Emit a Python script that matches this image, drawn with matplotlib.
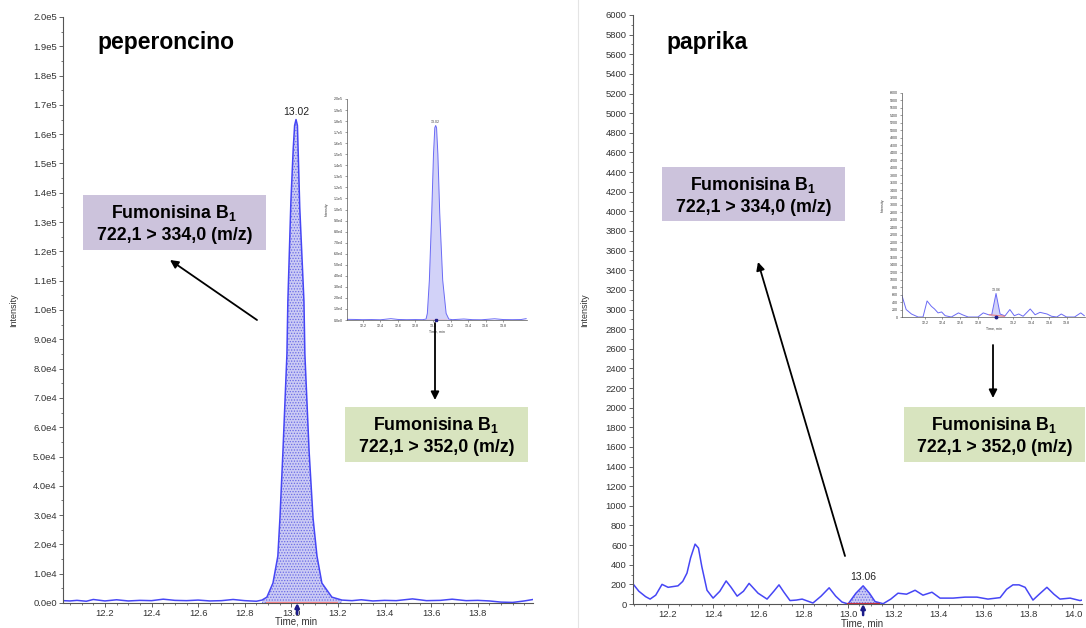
import matplotlib
matplotlib.use('Agg')
import matplotlib.pyplot as plt
from matplotlib.patches import Rectangle, FancyArrowPatch
from matplotlib.ticker import FixedLocator, MultipleLocator, FuncFormatter
from matplotlib.lines import Line2D
import numpy as np

plt.rcParams['font.family'] = ['Liberation Sans', 'DejaVu Sans']
plt.rcParams['mathtext.fontset'] = 'custom'
plt.rcParams['mathtext.rm'] = 'Liberation Sans'
plt.rcParams['mathtext.bf'] = 'Liberation Sans:bold'
plt.rcParams['hatch.linewidth'] = 0.6

# ---------------- DATA ----------------
# Left main chromatogram (peperoncino, 722,1 > 334,0)
left_pre_t = [12.02, 12.05, 12.08, 12.12, 12.15, 12.20, 12.25, 12.30, 12.35, 12.40, 12.45,
              12.50, 12.55, 12.60, 12.65, 12.70, 12.75, 12.80, 12.85]
left_pre_v = [800, 700, 900, 600, 1200, 700, 1100, 700, 900, 800, 1300,
              900, 800, 1000, 700, 800, 1200, 800, 600]
left_peak_t = [12.874, 12.895, 12.921, 12.942, 12.951, 12.964, 12.981, 12.985, 12.998, 13.008, 13.014,
               13.020, 13.026, 13.030, 13.036, 13.054, 13.058, 13.076, 13.093, 13.110, 13.131, 13.174, 13.217]
left_peak_v = [1000, 2000, 6800, 16000, 29000, 52000, 85000, 103000, 137000, 155000, 163000,
               165000, 163000, 152000, 135000, 103000, 85000, 52000, 29000, 16000, 6800, 2000, 1000]
left_post_t = [13.26, 13.30, 13.35, 13.40, 13.45, 13.52, 13.58, 13.64, 13.69, 13.75,
               13.80, 13.85, 13.90, 13.95, 14.00, 14.037]
left_post_v = [800, 1100, 700, 900, 800, 1400, 800, 900, 1300, 800,
               900, 700, 300, 200, 700, 1200]
left_peak_label = "13.02"
left_peak_rt = 13.025

# Left inset (722,1 > 352,0)
li_t = [12.02, 12.10, 12.20, 12.30, 12.40, 12.52, 12.60, 12.70, 12.80, 12.88, 12.92, 12.935, 12.958,
        12.985, 13.005, 13.02, 13.03, 13.04, 13.055, 13.076, 13.11, 13.149, 13.18, 13.22, 13.35,
        13.45, 13.55, 13.70, 13.80, 13.90, 14.00, 14.06]
li_v = [600, 500, 300, 400, 200, 1200, 500, 300, 400, 300, 800, 6000, 36000,
        97000, 150000, 174000, 176000, 174000, 150000, 97000, 36000, 6000, 800, 300, 900,
        300, 200, 1100, 400, 300, 400, 1200]
li_peak_t = li_t[10:23]
li_peak_v = li_v[10:23]
li_peak_label = "13.02"

# Right main chromatogram (paprika, 722,1 > 334,0)
right_t = [12.044, 12.07, 12.10, 12.12, 12.145, 12.173, 12.20, 12.244, 12.265, 12.284, 12.30, 12.32,
           12.335, 12.35, 12.373, 12.40, 12.43, 12.458, 12.48, 12.507, 12.535, 12.56, 12.60, 12.64,
           12.67, 12.693, 12.715, 12.742, 12.77, 12.796, 12.82, 12.844, 12.88, 12.916, 12.945,
           12.973, 13.00, 13.035, 13.067, 13.095, 13.12, 13.156, 13.19, 13.222, 13.26, 13.298,
           13.333, 13.373, 13.409, 13.467, 13.52, 13.573, 13.622, 13.676, 13.705, 13.733, 13.76,
           13.787, 13.822, 13.85, 13.884, 13.915, 13.942, 13.987, 14.031, 14.04]
right_v = [205, 130, 75, 50, 90, 200, 170, 185, 230, 315, 470, 610,
           570, 380, 140, 60, 130, 235, 170, 80, 130, 210, 110, 50,
           130, 195, 120, 35, 40, 50, 30, 10, 80, 165, 80,
           20, 0, 110, 185, 110, 25, 3, 50, 110, 100, 140,
           90, 120, 60, 60, 70, 70, 50, 65, 150, 195, 195,
           170, 40, 100, 170, 100, 50, 60, 35, 40]
right_peak_t = right_t[36:42]
right_peak_v = right_v[36:42]
right_peak_label = "13.06"
right_peak_rt = 13.067

# Right inset (722,1 > 352,0)
ri_t = [11.943, 11.99, 12.05, 12.125, 12.18, 12.226, 12.275, 12.31, 12.35, 12.39, 12.43, 12.50,
        12.58, 12.63, 12.69, 12.80, 12.86, 12.92, 12.955, 13.004, 13.05, 13.105, 13.16, 13.21,
        13.26, 13.31, 13.39, 13.445, 13.50, 13.58, 13.63, 13.69, 13.74, 13.80, 13.89, 13.96, 14.00]
ri_v = [570, 200, 80, 0, 0, 430, 285, 215, 110, 135, 35, 0,
        110, 55, 0, 0, 110, 60, 55, 630, 80, 30, 200, 35,
        80, 20, 215, 60, 125, 80, 20, 0, 80, 0, 0, 110, 35]
ri_peak_t = ri_t[18:22]
ri_peak_v = ri_v[18:22]
ri_peak_label = "13.06"

left_xticks = [12.2, 12.4, 12.6, 12.8, 13.0, 13.2, 13.4, 13.6, 13.8]
right_xticks = [12.2, 12.4, 12.6, 12.8, 13.0, 13.2, 13.4, 13.6, 13.8, 14.0]
left_yticks = [i * 1e4 for i in range(21)]
right_yticks = [i * 200 for i in range(31)]

titles = ["peperoncino", "paprika"]
box_334 = [r"Fumonisina B$_\mathbf{1}$", "722,1 > 334,0 (m/z)"]
box_352 = [r"Fumonisina B$_\mathbf{1}$", "722,1 > 352,0 (m/z)"]

# ---------------- STYLE ----------------
W, H = 1086, 628
LINE = '#4646f5'
FILL = '#cbcbf4'
HATCH = '#6a6ae6'
RED = '#f08080'
PURPLE = '#ccc3dc'
GREEN = '#d8e4bf'
TICKC = '#333333'

fig = plt.figure(figsize=(W / 100, H / 100), dpi=100)


def fx(px):
    return px / W


def fy(py):
    return 1 - py / H


def axes_px(x0, y0, x1, y1):
    return fig.add_axes([fx(x0), fy(y1), (x1 - x0) / W, (y1 - y0) / H])


def sci(v, pos):
    if abs(v) < 1e-9:
        return '0.0e0'
    e = int(np.floor(np.log10(abs(v)) + 1e-9))
    return f'{v / 10 ** e:.1f}e{e}'


def intfmt(v, pos):
    return f'{int(round(v))}'


def style(ax, fs, lw=0.8, tl=3.0):
    for s in ['top', 'right']:
        ax.spines[s].set_visible(False)
    for s in ['left', 'bottom']:
        ax.spines[s].set_color('#555555')
        ax.spines[s].set_linewidth(lw)
    ax.tick_params(labelsize=fs, labelcolor=TICKC, color='#555555', length=tl, width=lw * 0.8, pad=1.5)
    ax.tick_params(which='minor', length=tl * 0.55, width=lw * 0.7, color='#555555')
    ax.set_facecolor('none')


# ---- Left main ----
ax1 = axes_px(63, 17, 533, 603)
lt = left_pre_t + left_peak_t + left_post_t
lv = left_pre_v + left_peak_v + left_post_v
ax1.fill_between(left_peak_t, left_peak_v, 0, facecolor=FILL, edgecolor=HATCH, hatch='......', linewidth=0)
ax1.plot(lt, lv, color=LINE, lw=1.1)
ax1.plot([12.89, 13.2], [0, 0], color=RED, lw=1.6, solid_capstyle='butt', zorder=3)
ax1.set_xlim(12.02, 14.037)
ax1.set_ylim(0, 2.0e5)
ax1.xaxis.set_major_locator(FixedLocator(left_xticks))
ax1.xaxis.set_minor_locator(MultipleLocator(0.05))
ax1.yaxis.set_major_locator(FixedLocator(left_yticks))
ax1.yaxis.set_minor_locator(MultipleLocator(5000))
ax1.yaxis.set_major_formatter(FuncFormatter(sci))
ax1.xaxis.set_major_formatter(FuncFormatter(lambda v, p: f'{v:.1f}'))
style(ax1, 6.8)
ax1.annotate(left_peak_label, xy=(13.02, max(left_peak_v)), xytext=(0, 1.5), textcoords='offset points',
             ha='center', va='bottom', fontsize=7.5, color='#222222')
ax1.annotate('', xy=(left_peak_rt, 0), xytext=(0, -8), textcoords='offset points',
             arrowprops=dict(arrowstyle='-|>', color='#1c1c8a', lw=1.8, mutation_scale=6, shrinkA=0, shrinkB=0),
             annotation_clip=False, zorder=5)

# ---- Right main ----
ax2 = axes_px(633, 15, 1082, 604)
ax2.fill_between(right_peak_t, right_peak_v, 0, facecolor=FILL, edgecolor=HATCH, hatch='......', linewidth=0)
ax2.plot(right_t, right_v, color=LINE, lw=1.1)
ax2.plot([12.996, 13.142], [0, 0], color='#c03040', lw=1.6, solid_capstyle='butt', zorder=3)
ax2.set_xlim(12.044, 14.04)
ax2.set_ylim(0, 6000)
ax2.xaxis.set_major_locator(FixedLocator(right_xticks))
ax2.xaxis.set_minor_locator(MultipleLocator(0.05))
ax2.yaxis.set_major_locator(FixedLocator(right_yticks))
ax2.yaxis.set_minor_locator(MultipleLocator(100))
ax2.yaxis.set_major_formatter(FuncFormatter(intfmt))
ax2.xaxis.set_major_formatter(FuncFormatter(lambda v, p: f'{v:.1f}'))
style(ax2, 6.8)
ax2.annotate(right_peak_label, xy=(right_peak_rt, max(right_peak_v)), xytext=(0, 3), textcoords='offset points',
             ha='center', va='bottom', fontsize=7.5, color='#222222')
ax2.annotate('', xy=(right_peak_rt, 0), xytext=(0, -8), textcoords='offset points',
             arrowprops=dict(arrowstyle='-|>', color='#1c1c8a', lw=1.8, mutation_scale=6, shrinkA=0, shrinkB=0),
             annotation_clip=False, zorder=5)

# ---- Left inset ----
ax3 = axes_px(347, 99, 527, 320)
ax3.fill_between(li_peak_t, li_peak_v, 0, facecolor='#d2d2f8', linewidth=0)
ax3.plot(li_t, li_v, color='#6a6af5', lw=0.7)
ax3.plot([12.93, 13.15], [0, 0], color=RED, lw=1.0, zorder=3)
ax3.set_xlim(12.02, 14.07)
ax3.set_ylim(0, 2.0e5)
ax3.xaxis.set_major_locator(FixedLocator(left_xticks))
ax3.yaxis.set_major_locator(FixedLocator(left_yticks))
ax3.yaxis.set_major_formatter(FuncFormatter(sci))
ax3.xaxis.set_major_formatter(FuncFormatter(lambda v, p: f'{v:.1f}'))
style(ax3, 2.6, lw=0.5, tl=1.2)
ax3.set_xlabel('Time, min', fontsize=2.6, color=TICKC, labelpad=1)
ax3.set_ylabel('Intensity', fontsize=2.6, color=TICKC, labelpad=4)
ax3.annotate(li_peak_label, xy=(13.03, max(li_peak_v)), xytext=(0, 1), textcoords='offset points',
             ha='center', va='bottom', fontsize=2.6, color='#444444')
ax3.plot([13.03], [0], marker='s', ms=1.6, color='#1c1c8a', clip_on=False, zorder=5)

# ---- Right inset ----
ax4 = axes_px(902, 93, 1085, 317)
ax4.fill_between(ri_peak_t, ri_peak_v, 0, facecolor='#d2d2f8', linewidth=0)
ax4.plot(ri_t, ri_v, color='#6a6af5', lw=0.7)
ax4.plot([12.93, 13.10], [60, 20], color=RED, lw=0.8, zorder=3)
ax4.set_xlim(11.943, 14.008)
ax4.set_ylim(0, 6000)
ax4.xaxis.set_major_locator(FixedLocator([12.2, 12.4, 12.6, 12.8, 13.2, 13.4, 13.6, 13.8]))
ax4.yaxis.set_major_locator(FixedLocator(right_yticks))
ax4.yaxis.set_major_formatter(FuncFormatter(intfmt))
ax4.xaxis.set_major_formatter(FuncFormatter(lambda v, p: f'{v:.1f}'))
style(ax4, 2.6, lw=0.5, tl=1.2)
ax4.set_xlabel('Time, min', fontsize=2.6, color=TICKC, labelpad=1)
ax4.set_ylabel('Intensity', fontsize=2.6, color=TICKC, labelpad=4)
ax4.annotate(ri_peak_label, xy=(13.004, max(ri_peak_v)), xytext=(0, 1), textcoords='offset points',
             ha='center', va='bottom', fontsize=2.6, color='#444444')
ax4.plot([13.004], [0], marker='o', ms=1.8, color='#1c1c8a', clip_on=False, zorder=5)

# ---- Axis labels of main plots ----
fig.text(fx(14), fy(310), 'Intensity', rotation=90, fontsize=6.5, color=TICKC, ha='center', va='center')
fig.text(fx(296), fy(622), 'Time, min', fontsize=7, color=TICKC, ha='center', va='center')
fig.text(fx(585), fy(310), 'Intensity', rotation=90, fontsize=6.5, color=TICKC, ha='center', va='center')
fig.text(fx(862), fy(624), 'Time, min', fontsize=7, color=TICKC, ha='center', va='center')

# faint frame line of the right screenshot
fig.add_artist(Line2D([fx(578), fx(578)], [0, 1], transform=fig.transFigure, color='#e4e4e4', lw=0.8))

# ---- Titles ----
fig.text(fx(97), fy(42), titles[0], fontsize=16.5, fontweight='bold', ha='left', va='center')
fig.text(fx(666), fy(42), titles[1], fontsize=16.5, fontweight='bold', ha='left', va='center')


# ---- Boxes ----
def box(x0, y0, x1, y1, color, lines):
    fig.add_artist(Rectangle((fx(x0), fy(y1)), (x1 - x0) / W, (y1 - y0) / H, transform=fig.transFigure,
                             facecolor=color, edgecolor='none', zorder=4))
    cx = fx((x0 + x1) / 2)
    fig.text(cx, fy(y0 + 18), lines[0], fontsize=12.8, fontweight='bold', ha='center', va='center', zorder=5)
    fig.text(cx, fy(y0 + 40), lines[1], fontsize=12.8, fontweight='bold', ha='center', va='center', zorder=5)


box(83, 195, 266, 250, PURPLE, box_334)
box(345, 407, 528, 462, GREEN, box_352)
box(662, 167, 845, 221, PURPLE, box_334)
box(904, 407, 1085, 462, GREEN, box_352)


# ---- Arrows ----
def arrow(x0, y0, x1, y1):
    fig.add_artist(FancyArrowPatch((fx(x0), fy(y0)), (fx(x1), fy(y1)), transform=fig.transFigure,
                                   arrowstyle='-|>', mutation_scale=12, color='black', lw=1.3,
                                   shrinkA=0, shrinkB=0, zorder=6))


arrow(257, 320, 170, 260)
arrow(435, 323, 435, 400)
arrow(845, 556, 758, 262)
arrow(993, 345, 993, 398)

fig.savefig('out.png', dpi=100)
